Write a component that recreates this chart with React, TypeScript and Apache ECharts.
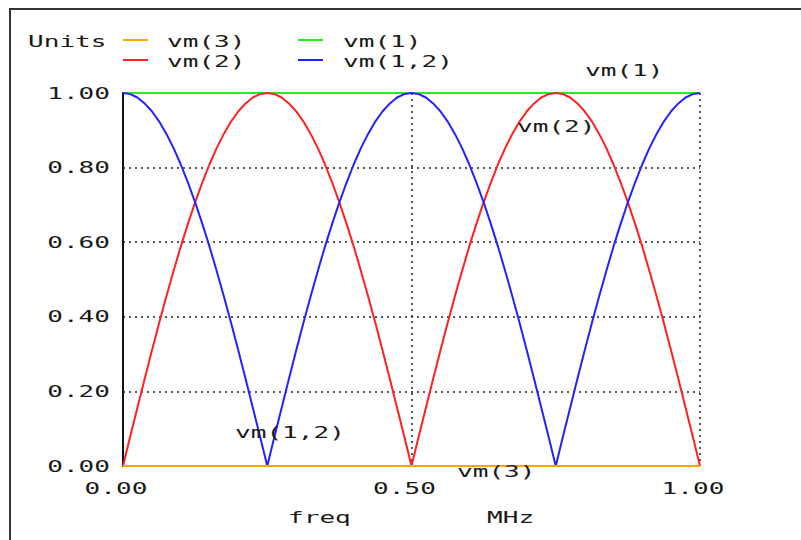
import React, { useEffect, useRef } from "react";
import * as echarts from "echarts";

// x values (MHz)
const freq = [
  0, 0.0125, 0.025, 0.0375, 0.05, 0.0625, 0.075, 0.0875, 0.1, 0.1125, 0.125, 0.1375, 0.15, 0.1625, 0.175, 0.1875, 0.2,
  0.2125, 0.225, 0.2375, 0.25, 0.2625, 0.275, 0.2875, 0.3, 0.3125, 0.325, 0.3375, 0.35, 0.3625, 0.375, 0.3875, 0.4,
  0.4125, 0.425, 0.4375, 0.45, 0.4625, 0.475, 0.4875, 0.5, 0.5125, 0.525, 0.5375, 0.55, 0.5625, 0.575, 0.5875, 0.6,
  0.6125, 0.625, 0.6375, 0.65, 0.6625, 0.675, 0.6875, 0.7, 0.7125, 0.725, 0.7375, 0.75, 0.7625, 0.775, 0.7875, 0.8,
  0.8125, 0.825, 0.8375, 0.85, 0.8625, 0.875, 0.8875, 0.9, 0.9125, 0.925, 0.9375, 0.95, 0.9625, 0.975, 0.9875, 1,
];

const vm2 = [
  0, 0.079, 0.156, 0.233, 0.309, 0.383, 0.454, 0.522, 0.588, 0.649, 0.707, 0.76, 0.809, 0.853, 0.891, 0.924, 0.951,
  0.972, 0.988, 0.997, 1, 0.997, 0.988, 0.972, 0.951, 0.924, 0.891, 0.853, 0.809, 0.76, 0.707, 0.649, 0.588,
  0.522, 0.454, 0.383, 0.309, 0.233, 0.156, 0.079, 0, 0.079, 0.156, 0.233, 0.309, 0.383, 0.454, 0.522, 0.588,
  0.649, 0.707, 0.76, 0.809, 0.853, 0.891, 0.924, 0.951, 0.972, 0.988, 0.997, 1, 0.997, 0.988, 0.972, 0.951,
  0.924, 0.891, 0.853, 0.809, 0.76, 0.707, 0.649, 0.588, 0.522, 0.454, 0.383, 0.309, 0.233, 0.156, 0.079, 0,
];

const vm12 = [
  1, 0.997, 0.988, 0.972, 0.951, 0.924, 0.891, 0.853, 0.809, 0.76, 0.707, 0.649, 0.588, 0.522, 0.454, 0.383, 0.309,
  0.233, 0.156, 0.079, 0, 0.079, 0.156, 0.233, 0.309, 0.383, 0.454, 0.522, 0.588, 0.649, 0.707, 0.76, 0.809,
  0.853, 0.891, 0.924, 0.951, 0.972, 0.988, 0.997, 1, 0.997, 0.988, 0.972, 0.951, 0.924, 0.891, 0.853, 0.809,
  0.76, 0.707, 0.649, 0.588, 0.522, 0.454, 0.383, 0.309, 0.233, 0.156, 0.079, 0, 0.079, 0.156, 0.233, 0.309,
  0.383, 0.454, 0.522, 0.588, 0.649, 0.707, 0.76, 0.809, 0.853, 0.891, 0.924, 0.951, 0.972, 0.988, 0.997, 1,
];

const flatFreq = [0, 1];
const vm1 = [1, 1];
const vm3 = [0, 0];

const xTicks = [0, 0.5, 1];
const xTickLabels = ["0.00", "0.50", "1.00"];
const yTicks = [0, 0.2, 0.4, 0.6, 0.8, 1];
const yTickLabels = ["0.00", "0.20", "0.40", "0.60", "0.80", "1.00"];

const seriesNames = ["vm(3)", "vm(1)", "vm(2)", "vm(1,2)"];
const seriesColors = ["#ffa500", "#22ee22", "#ff2020", "#2222ff"];
const unitsLabel = "Units";
const xAxisTitle = "freq";
const xAxisUnit = "MHz";

const FONT = '16px "DejaVu Sans Mono"';
const SX = 1.63;
const TXT = "#1a1a1a";

function txt(text: string, x: number, y: number, align: string) {
  return {
    type: "text",
    x,
    y,
    scaleX: SX,
    z: 10,
    silent: true,
    style: {
      text,
      fill: TXT,
      font: FONT,
      textAlign: align,
      align,
      textVerticalAlign: "middle",
      verticalAlign: "middle",
    },
  };
}

function legendLine(x: number, y: number, color: string) {
  return {
    type: "line",
    z: 10,
    silent: true,
    shape: { x1: x, y1: y, x2: x + 25, y2: y },
    style: { stroke: color, lineWidth: 2 },
  };
}

export default function App() {
  const ref = useRef<HTMLDivElement>(null);

  useEffect(() => {
    if (!ref.current) return;
    const chart = echarts.init(ref.current, null, { renderer: "svg" });
    const pairs = (xs: number[], ys: number[]) => xs.map((x, i) => [x, ys[i]]);
    const lineSeries = (name: string, color: string, data: number[][]) => ({
      name,
      type: "line",
      data,
      showSymbol: false,
      symbol: "none",
      lineStyle: { color, width: 2 },
      itemStyle: { color },
      silent: true,
    });

    chart.setOption({
      animation: false,
      backgroundColor: "#ffffff",
      grid: { left: 123, right: 101, top: 93, bottom: 74, containLabel: false },
      xAxis: {
        type: "value",
        min: 0,
        max: 1,
        interval: 0.5,
        axisLine: { show: false },
        axisTick: { show: false },
        axisLabel: { show: false },
        splitLine: { show: true, lineStyle: { color: "#222", width: 1.5, type: [2, 4] } },
      },
      yAxis: {
        type: "value",
        min: 0,
        max: 1,
        interval: 0.2,
        axisLine: { show: true, lineStyle: { color: "#111", width: 2 } },
        axisTick: { show: false },
        axisLabel: { show: false },
        splitLine: { show: true, lineStyle: { color: "#222", width: 1.5, type: [2, 4] } },
      },
      series: [
        lineSeries(seriesNames[1], seriesColors[1], pairs(flatFreq, vm1)),
        lineSeries(seriesNames[2], seriesColors[2], pairs(freq, vm2)),
        lineSeries(seriesNames[3], seriesColors[3], pairs(freq, vm12)),
        lineSeries(seriesNames[0], seriesColors[0], pairs(flatFreq, vm3)),
      ],
    });

    const els: any[] = [];
    // frame
    els.push({
      type: "polyline",
      silent: true,
      shape: { points: [[10, 540], [10, 9], [801, 9]] },
      style: { stroke: "#333", lineWidth: 2, fill: "none" },
    });
    // tick labels from axis scale
    xTicks.forEach((v, i) => {
      const p = chart.convertToPixel({ gridIndex: 0 }, [v, 0]) as number[];
      els.push(txt(xTickLabels[i], p[0] - 7, p[1] + 22, "center"));
    });
    yTicks.forEach((v, i) => {
      const p = chart.convertToPixel({ gridIndex: 0 }, [0, v]) as number[];
      els.push(txt(yTickLabels[i], p[0] - 13, p[1], "right"));
    });
    // axis titles
    els.push(txt(xAxisTitle, 288, 517, "left"));
    els.push(txt(xAxisUnit, 487, 517, "left"));
    // legend
    els.push(txt(unitsLabel, 28, 41, "left"));
    els.push(legendLine(123, 40, seriesColors[0]));
    els.push(txt(seriesNames[0], 167, 41, "left"));
    els.push(legendLine(298, 40, seriesColors[1]));
    els.push(txt(seriesNames[1], 343, 41, "left"));
    els.push(legendLine(123, 60, seriesColors[2]));
    els.push(txt(seriesNames[2], 167, 61, "left"));
    els.push(legendLine(298, 60, seriesColors[3]));
    els.push(txt(seriesNames[3], 343, 61, "left"));
    // curve annotations
    els.push(txt(seriesNames[1], 585, 70, "left"));
    els.push(txt(seriesNames[2], 517, 126, "left"));
    els.push(txt(seriesNames[3], 235, 432, "left"));
    els.push(txt(seriesNames[0], 457, 471, "left"));

    chart.setOption({ graphic: { elements: els } });

    return () => chart.dispose();
  }, []);

  return (
    <div
      ref={ref}
      style={{ position: "absolute", left: 0, top: 0, width: 801, height: 540, background: "#fff" }}
    />
  );
}
